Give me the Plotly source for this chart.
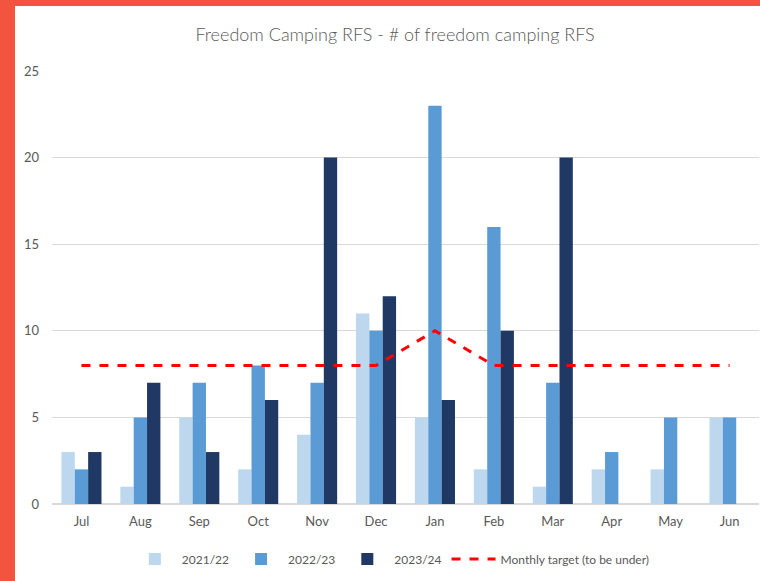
import plotly.graph_objects as go

months = ["Jul", "Aug", "Sep", "Oct", "Nov", "Dec", "Jan", "Feb", "Mar", "Apr", "May", "Jun"]
fy2122 = [3, 1, 5, 2, 4, 11, 5, 2, 1, 2, 2, 5]
fy2223 = [2, 5, 7, 8, 7, 10, 23, 16, 7, 3, 5, 5]
fy2324 = [3, 7, 3, 6, 20, 12, 6, 10, 20, None, None, None]
target = [8, 8, 8, 8, 8, 8, 10, 8, 8, 8, 8, 8]

W, H = 760, 581
ml, mr, mt, mb = 52, 1, 71, 77
pw, ph = W - ml - mr, H - mt - mb
grey = "#595959"
border = "#F25440"

fig = go.Figure()
for name, vals, col in [("2021/22", fy2122, "#BDD7EE"),
                        ("2022/23", fy2223, "#5B9BD5"),
                        ("2023/24", fy2324, "#1F3864")]:
    fig.add_bar(x=months, y=vals, name=name, marker_color=col, marker_line_width=0)
fig.add_scatter(x=months, y=target, name="Monthly target (to be under)", mode="lines",
                line=dict(color="#FF0000", width=3, dash="dash"))

# orange frame on left and top edges
fig.add_shape(type="rect", xref="paper", yref="paper", layer="above",
              x0=-ml / pw, x1=(15 - ml) / pw, y0=-mb / ph, y1=1 + mt / ph,
              fillcolor=border, line_width=0)
fig.add_shape(type="rect", xref="paper", yref="paper", layer="above",
              x0=-ml / pw, x1=1 + mr / pw, y0=1 + (mt - 6) / ph, y1=1 + (mt + 2) / ph,
              fillcolor=border, line_width=0)

fig.update_layout(
    width=W, height=H,
    margin=dict(l=ml, r=mr, t=mt, b=mb, autoexpand=False),
    paper_bgcolor="white", plot_bgcolor="white",
    font=dict(family="Lato", size=13, color=grey),
    title=dict(text="Freedom Camping RFS - # of freedom camping RFS", x=395 / W, xanchor="center",
               xref="container", y=1 - 35 / H, yanchor="middle", yref="container",
               font=dict(family="Lato", size=18, color=grey, weight=300)),
    barmode="group", bargap=0.32, bargroupgap=0,
    legend=dict(orientation="h", x=0.48, xanchor="center", y=-55 / ph, yanchor="middle",
                font=dict(size=12, color=grey), itemwidth=44),
)
fig.update_yaxes(range=[0, 25], dtick=5, showgrid=True, gridcolor="#D9D9D9", gridwidth=1,
                 zeroline=True, zerolinecolor="#D9D9D9", showline=False, ticks="",
                 ticklabelstandoff=12, automargin=False)
fig.update_xaxes(showgrid=False, showline=False, ticks="", ticklabelstandoff=8, automargin=False)

fig.write_html("out.html", config={"displayModeBar": False},
               post_script="document.body.style.margin='0';")
